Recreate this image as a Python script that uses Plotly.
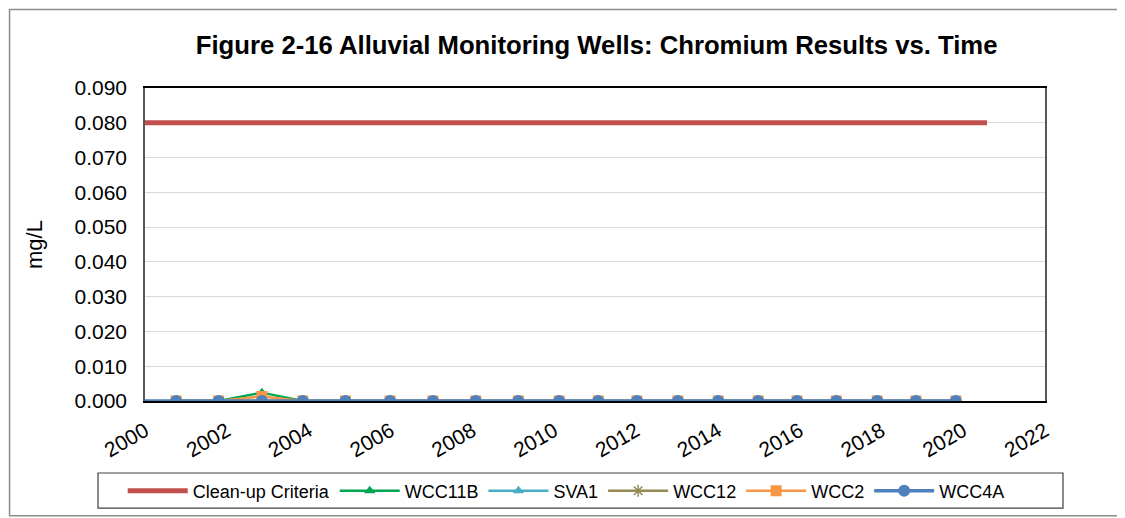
import plotly.graph_objects as go

# ---- data ----
sample_dates = ["2000-10-05", "2001-10-20", "2002-11-10", "2003-11-10", "2004-11-25",
                "2005-12-28", "2007-01-15", "2008-02-01", "2009-02-15", "2010-02-15",
                "2011-01-30", "2012-01-10", "2013-01-10", "2014-01-05", "2014-12-28",
                "2015-12-10", "2016-11-25", "2017-11-25", "2018-11-05", "2019-10-28"]
wcc4a_dates = ["1999-10-20"] + sample_dates

cleanup_dates = ["2000-01-01", "2020-08-01"]
cleanup_vals = [0.080, 0.080]

wcc11b_vals = [0, 0, 0.0024, 0, 0, 0, 0, 0, 0, 0, 0, 0, 0, 0, 0, 0, 0, 0, 0, 0]
sva1_vals   = [0, 0, 0, 0, 0, 0, 0, 0, 0, 0, 0, 0, 0, 0, 0, 0, 0, 0, 0, 0]
wcc12_vals  = [0, 0, 0, 0, 0, 0, 0, 0, 0, 0, 0, 0, 0, 0, 0, 0, 0, 0, 0, 0]
wcc2_vals   = [0, 0, 0.0013, 0, 0, 0, 0, 0, 0, 0, 0, 0, 0, 0, 0, 0, 0, 0, 0, 0]
wcc4a_vals  = [0] + [0] * 20

title = "Figure 2-16 Alluvial Monitoring Wells: Chromium Results vs. Time"
y_title = "mg/L"

FONT = "Liberation Sans, Arial, sans-serif"

fig = go.Figure()
fig.add_trace(go.Scatter(x=cleanup_dates, y=cleanup_vals, mode="lines", name="Clean-up Criteria",
                         line=dict(color="#C0504D", width=5)))
fig.add_trace(go.Scatter(x=sample_dates, y=wcc11b_vals, mode="lines+markers", name="WCC11B",
                         line=dict(color="#00A651", width=2.5),
                         marker=dict(symbol="triangle-up", size=10, color="#00A651")))
fig.add_trace(go.Scatter(x=sample_dates, y=sva1_vals, mode="lines+markers", name="SVA1",
                         line=dict(color="#4BACC6", width=2.5),
                         marker=dict(symbol="triangle-up", size=10, color="#4BACC6")))
fig.add_trace(go.Scatter(x=sample_dates, y=wcc12_vals, mode="lines+markers", name="WCC12",
                         line=dict(color="#948A54", width=2.5),
                         marker=dict(symbol="asterisk-open", size=10, color="#948A54",
                                     line=dict(color="#948A54", width=1.5))))
fig.add_trace(go.Scatter(x=sample_dates, y=wcc2_vals, mode="lines+markers", name="WCC2",
                         line=dict(color="#F79646", width=2.5),
                         marker=dict(symbol="square", size=11, color="#F79646")))
fig.add_trace(go.Scatter(x=wcc4a_dates, y=wcc4a_vals, mode="lines+markers", name="WCC4A",
                         line=dict(color="#4F81BD", width=3.5),
                         marker=dict(symbol="circle", size=12, color="#4F81BD")))

# outer chart border and legend box (paper coords relative to plot area)
fig.add_shape(type="rect", xref="paper", yref="paper", x0=-0.1505, x1=1.0856, y0=-0.367, y1=1.251,
              line=dict(color="#8C8C8C", width=1.5), fillcolor="rgba(0,0,0,0)", layer="below")
fig.add_shape(type="rect", xref="paper", yref="paper", x0=-0.0522, x1=1.02, y0=-0.342, y1=-0.230,
              line=dict(color="#404040", width=1.2), fillcolor="rgba(0,0,0,0)", layer="below")

fig.update_layout(
    width=1117, height=510,
    margin=dict(l=137, r=80, t=80, b=117, autoexpand=False),
    paper_bgcolor="white", plot_bgcolor="white",
    font=dict(family=FONT, color="black"),
    title=dict(text="<b>" + title + "</b>", x=0.527, xanchor="center", y=0.927, yanchor="middle",
               font=dict(size=25.7, family=FONT, color="black")),
    showlegend=True,
    legend=dict(orientation="h", x=0.468, xanchor="center", y=-0.2875, yanchor="middle",
                font=dict(size=18, family=FONT), itemwidth=60,
                bgcolor="rgba(0,0,0,0)", traceorder="normal"),
    xaxis=dict(type="date", range=["2000-01-01", "2022-01-01"], dtick="M24", tick0="2000-01-01",
               tickformat="%Y", tickangle=-30, tickfont=dict(size=21),
               showgrid=False, showline=True, linecolor="black", linewidth=1.5,
               mirror=True, ticks="", zeroline=False, ticklabelstandoff=8),
    yaxis=dict(range=[0, 0.09], dtick=0.01, tickformat=".3f", tickfont=dict(size=21),
               showgrid=True, gridcolor="#D9D9D9", gridwidth=1,
               showline=True, linecolor="#595959", linewidth=1.5, mirror=True,
               ticks="", zeroline=False, ticklabelstandoff=12,
               title=dict(text=y_title, font=dict(size=22), standoff=26)),
)

fig.write_html("out.html")
